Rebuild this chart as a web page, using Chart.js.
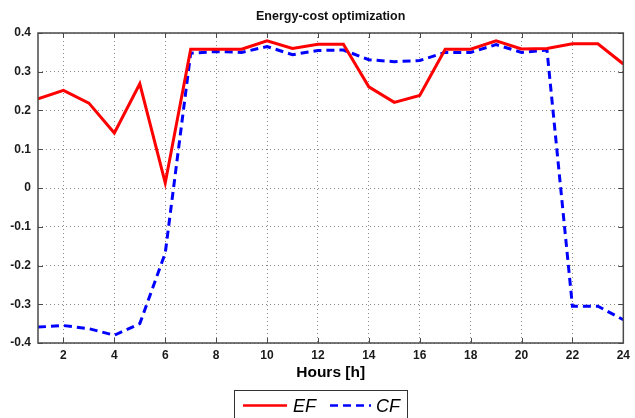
<!DOCTYPE html>
<html><head><meta charset="utf-8">
<script src="https://cdn.jsdelivr.net/npm/chart.js@4"></script>
<style>html,body{margin:0;padding:0;background:#fff}#wrap{width:635px;height:418px;position:relative}</style>
</head><body><div id="wrap"><canvas id="c" width="635" height="418"></canvas></div>
<script>
const hours = [1,2,3,4,5,6,7,8,9,10,11,12,13,14,15,16,17,18,19,20,21,22,23,24];
const efValues = [0.23,0.252,0.219,0.142,0.269,0.013,0.358,0.358,0.358,0.38,0.36,0.371,0.371,0.261,0.221,0.239,0.358,0.358,0.38,0.359,0.36,0.372,0.372,0.32];
const cfValues = [-0.359,-0.355,-0.363,-0.38,-0.35,-0.168,0.348,0.352,0.35,0.365,0.344,0.355,0.356,0.331,0.326,0.329,0.35,0.35,0.37,0.35,0.356,-0.305,-0.305,-0.34];
const xTickValues = [2,4,6,8,10,12,14,16,18,20,22,24];
const xTickLabels = ['2','4','6','8','10','12','14','16','18','20','22','24'];
const yTickValues = [-0.4,-0.3,-0.2,-0.1,0,0.1,0.2,0.3,0.4];
const yTickLabels = ['-0.4','-0.3','-0.2','-0.1','0','0.1','0.2','0.3','0.4'];
const seriesNames = ['EF','CF'];
const titleText = 'Energy-cost optimization';
const xAxisTitle = 'Hours [h]';

const FONT = '"Liberation Sans", Arial, sans-serif';

const framePlugin = {
  id: 'frame',
  afterDatasetsDraw(chart) {
    const {ctx, chartArea: a, scales} = chart;
    ctx.save();
    ctx.strokeStyle = '#4a4a4a';
    ctx.lineWidth = 1;
    ctx.setLineDash([]);
    ctx.beginPath();
    xTickValues.forEach(v => {
      const px = Math.round(scales.x.getPixelForValue(v)) + 0.5;
      ctx.moveTo(px, a.bottom); ctx.lineTo(px, a.bottom - 5);
      ctx.moveTo(px, a.top); ctx.lineTo(px, a.top + 5);
    });
    yTickValues.forEach(v => {
      const py = Math.round(scales.y.getPixelForValue(v)) + 0.5;
      ctx.moveTo(a.left, py); ctx.lineTo(a.left + 5, py);
      ctx.moveTo(a.right, py); ctx.lineTo(a.right - 5, py);
    });
    ctx.stroke();
    ctx.lineWidth = 1.5;
    ctx.strokeRect(a.left, a.top, a.right - a.left, a.bottom - a.top);
    // title
    ctx.fillStyle = '#111';
    ctx.font = 'bold 12.5px ' + FONT;
    ctx.textAlign = 'center';
    ctx.textBaseline = 'middle';
    ctx.fillText(titleText, (a.left + a.right) / 2, 17);
    // legend
    const bx = 234.5, by = 390.5, bw = 173, bh = 40;
    ctx.lineWidth = 1;
    ctx.strokeStyle = '#333';
    ctx.fillStyle = '#fff';
    ctx.fillRect(bx, by, bw, bh);
    ctx.strokeRect(bx, by, bw, bh);
    const items = [{x0: 243, x1: 287, tx: 293}, {x0: 330, x1: 371, tx: 376}];
    chart.data.datasets.forEach((ds, i) => {
      const it = items[i];
      ctx.strokeStyle = ds.borderColor;
      ctx.lineWidth = 2.5;
      ctx.setLineDash(ds.borderDash || []);
      ctx.beginPath();
      ctx.moveTo(it.x0, 405.5); ctx.lineTo(it.x1, 405.5);
      ctx.stroke();
      ctx.setLineDash([]);
      ctx.fillStyle = '#000';
      ctx.font = 'italic 18px ' + FONT;
      ctx.textAlign = 'left';
      ctx.textBaseline = 'middle';
      ctx.fillText(ds.label, it.tx, 407);
    });
    ctx.restore();
  }
};

new Chart(document.getElementById('c'), {
  type: 'line',
  data: {
    datasets: [
      {label: seriesNames[0], data: hours.map((h, i) => ({x: h, y: efValues[i]})), borderColor: '#ff0000', borderWidth: 3, pointRadius: 0, tension: 0, fill: false},
      {label: seriesNames[1], data: hours.map((h, i) => ({x: h, y: cfValues[i]})), borderColor: '#0000ff', borderWidth: 3, borderDash: [8, 5], pointRadius: 0, tension: 0, fill: false}
    ]
  },
  options: {
    responsive: false,
    animation: false,
    devicePixelRatio: 1,
    layout: {padding: {top: 33, right: 3, bottom: 35, left: 0}},
    plugins: {legend: {display: false}, title: {display: false}, tooltip: {enabled: false}},
    scales: {
      x: {
        type: 'linear', min: 1, max: 24,
        afterBuildTicks: s => { s.ticks = xTickValues.map(v => ({value: v})); },
        afterFit: s => { s.height = 40; },
        ticks: {autoSkip: false, maxRotation: 0, padding: 5, color: '#1a1a1a', font: {family: FONT, size: 12, weight: 'bold'}, callback: (v, i) => xTickLabels[i]},
        grid: {color: '#8a8a8a', lineWidth: 1, drawTicks: false},
        border: {display: false, dash: [1, 3]},
        title: {display: true, text: xAxisTitle, color: '#000', padding: {top: 0, bottom: 1}, font: {family: FONT, size: 15.5, weight: 'bold'}}
      },
      y: {
        type: 'linear', min: -0.4, max: 0.4,
        afterBuildTicks: s => { s.ticks = yTickValues.map(v => ({value: v})); },
        afterFit: s => { s.width = 38; },
        ticks: {padding: 7, color: '#1a1a1a', font: {family: FONT, size: 12, weight: 'bold'}, callback: (v, i) => yTickLabels[i]},
        grid: {color: '#8a8a8a', lineWidth: 1, drawTicks: false},
        border: {display: false, dash: [1, 3]}
      }
    }
  },
  plugins: [framePlugin]
});
</script>
</body></html>
